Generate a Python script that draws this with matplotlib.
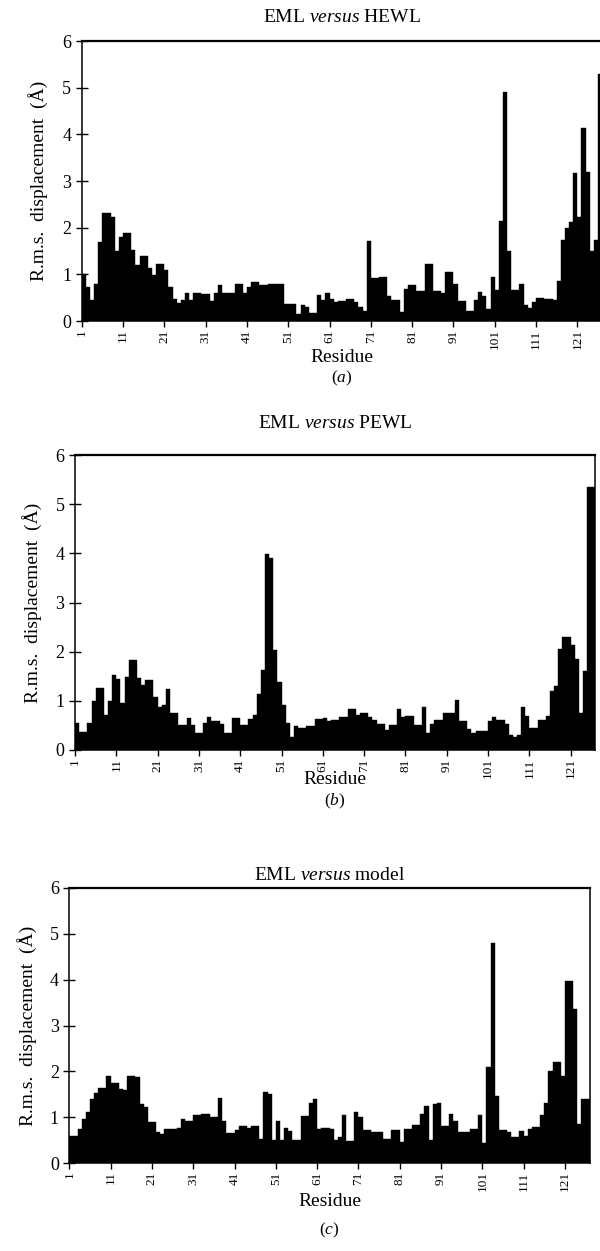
import matplotlib
matplotlib.use('Agg')
import matplotlib.pyplot as plt
import numpy as np

# residue numbers (bars drawn from r to r+1)
residues = np.arange(1, 127)
x_ticks = list(range(1, 122, 10))
y_ticks = [0, 1, 2, 3, 4, 5, 6]

# r.m.s. displacement per residue (A)
rms_hewl = [
    1.0, 0.72, 0.45, 0.8, 1.7, 2.32, 2.32, 2.22, 1.5, 1.79,
    1.89, 1.89, 1.52, 1.2, 1.39, 1.39, 1.14, 0.98, 1.23, 1.23,
    1.1, 0.72, 0.48, 0.39, 0.46, 0.6, 0.46, 0.6, 0.6, 0.57,
    0.57, 0.43, 0.59, 0.77, 0.6, 0.6, 0.6, 0.79, 0.79, 0.59,
    0.72, 0.84, 0.84, 0.77, 0.77, 0.79, 0.79, 0.79, 0.8, 0.37,
    0.37, 0.37, 0.16, 0.35, 0.3, 0.17, 0.17, 0.55, 0.46, 0.61,
    0.48, 0.41, 0.42, 0.42, 0.47, 0.47, 0.4, 0.31, 0.21, 1.71,
    0.92, 0.92, 0.94, 0.94, 0.54, 0.44, 0.44, 0.2, 0.69, 0.77,
    0.77, 0.64, 0.64, 1.23, 1.23, 0.65, 0.65, 0.6, 1.04, 1.04,
    0.8, 0.42, 0.42, 0.21, 0.21, 0.46, 0.62, 0.54, 0.25, 0.94,
    0.67, 2.15, 4.9, 1.5, 0.67, 0.67, 0.8, 0.35, 0.28, 0.4,
    0.5, 0.5, 0.47, 0.47, 0.44, 0.86, 1.73, 2.0, 2.13, 3.18,
    2.22, 4.13, 3.2, 1.5, 1.73, 5.3,
]
rms_pewl = [
    0.54, 0.37, 0.37, 0.54, 0.99, 1.26, 1.26, 0.71, 0.99, 1.53,
    1.44, 0.95, 1.48, 1.84, 1.84, 1.46, 1.33, 1.43, 1.43, 1.07,
    0.88, 0.92, 1.24, 0.76, 0.76, 0.51, 0.51, 0.66, 0.51, 0.34,
    0.34, 0.54, 0.67, 0.58, 0.58, 0.53, 0.35, 0.35, 0.65, 0.65,
    0.51, 0.51, 0.63, 0.71, 1.14, 1.63, 3.98, 3.9, 2.03, 1.39,
    0.92, 0.54, 0.27, 0.49, 0.44, 0.44, 0.49, 0.49, 0.63, 0.63,
    0.65, 0.58, 0.62, 0.61, 0.67, 0.67, 0.83, 0.83, 0.71, 0.76,
    0.76, 0.67, 0.61, 0.53, 0.53, 0.41, 0.51, 0.51, 0.83, 0.68,
    0.69, 0.69, 0.51, 0.51, 0.88, 0.34, 0.53, 0.61, 0.61, 0.76,
    0.76, 0.76, 1.02, 0.58, 0.58, 0.42, 0.35, 0.39, 0.39, 0.39,
    0.6, 0.68, 0.61, 0.61, 0.53, 0.3, 0.27, 0.3, 0.88, 0.7,
    0.44, 0.44, 0.61, 0.61, 0.7, 1.21, 1.31, 2.05, 2.3, 2.3,
    2.13, 1.85, 0.75, 1.6, 5.35, 5.35,
]
rms_model = [
    0.58, 0.58, 0.74, 0.96, 1.11, 1.39, 1.52, 1.64, 1.64, 1.9,
    1.75, 1.75, 1.62, 1.59, 1.9, 1.9, 1.88, 1.28, 1.22, 0.89,
    0.89, 0.67, 0.64, 0.74, 0.74, 0.74, 0.77, 0.96, 0.91, 0.91,
    1.04, 1.04, 1.06, 1.06, 1.01, 1.01, 1.42, 0.91, 0.66, 0.66,
    0.73, 0.8, 0.8, 0.77, 0.8, 0.8, 0.53, 1.55, 1.5, 0.51,
    0.91, 0.5, 0.77, 0.69, 0.51, 0.5, 1.02, 1.02, 1.31, 1.4,
    0.74, 0.77, 0.77, 0.74, 0.51, 0.56, 1.04, 0.49, 0.49, 1.11,
    1.0, 0.73, 0.73, 0.67, 0.67, 0.67, 0.53, 0.53, 0.71, 0.71,
    0.45, 0.75, 0.75, 0.84, 0.84, 1.06, 1.24, 0.51, 1.28, 1.31,
    0.8, 0.8, 1.06, 0.91, 0.68, 0.68, 0.68, 0.74, 0.74, 1.04,
    0.44, 2.09, 4.8, 1.46, 0.73, 0.73, 0.68, 0.56, 0.56, 0.69,
    0.6, 0.75, 0.78, 0.78, 1.05, 1.3, 2.0, 2.2, 2.2, 1.9,
    3.98, 3.98, 3.36, 0.85, 1.39, 1.39,
]

titles = [r'EML $\it{versus}$ HEWL', r'EML $\it{versus}$ PEWL',
          r'EML $\it{versus}$ model']
letters = [r'($\it{a}$)', r'($\it{b}$)', r'($\it{c}$)']
series = [rms_hewl, rms_pewl, rms_model]

plt.rcParams.update({
    'font.family': 'Liberation Serif',
    'mathtext.fontset': 'custom',
    'mathtext.rm': 'Liberation Serif',
    'mathtext.it': 'Liberation Serif:italic',
})

W, H = 600, 1251
fig = plt.figure(figsize=(W / 100, H / 100), dpi=100)

# axes boxes in pixels: left, right, top, bottom
boxes = [(81.7, 602.1, 41, 321), (75, 595.4, 455, 750),
         (69.3, 589.7, 888, 1163)]
title_y = [18, 423, 876]
xlabel_y = [357, 780, 1201]
letter_y = [378, 801, 1230]
ylabel_x = [38, 32, 27]

for i, values in enumerate(series):
    x0, x1, top, bot = boxes[i]
    ax = fig.add_axes([x0 / W, 1 - bot / H, (x1 - x0) / W, (bot - top) / H])
    ax.bar(residues, values, width=1, align='edge', color='black',
           edgecolor='black', linewidth=0.3)
    ax.set_xlim(1, 127)
    ax.set_ylim(0, 6)
    ax.set_xticks(x_ticks)
    ax.set_xticklabels([str(t) for t in x_ticks], rotation=90, fontsize=9.5)
    ax.set_yticks(y_ticks)
    ax.set_yticklabels([str(t) for t in y_ticks], fontsize=13)
    ax.tick_params(axis='y', direction='inout', length=9, width=1, pad=3)
    ax.tick_params(axis='x', direction='out', length=4, width=1, pad=2)
    for side in ['left', 'bottom', 'right']:
        ax.spines[side].set_linewidth(1.1)
    ax.spines['top'].set_linewidth(1.6)

    xc = (x0 + x1) / 2 / W
    fig.text(xc, 1 - title_y[i] / H, titles[i], ha='center', va='center',
             fontsize=14)
    fig.text(xc, 1 - xlabel_y[i] / H, 'Residue', ha='center', va='center',
             fontsize=14)
    fig.text(xc, 1 - letter_y[i] / H, letters[i], ha='center', va='center',
             fontsize=12.5)
    fig.text(ylabel_x[i] / W, 1 - (top + bot) / 2 / H,
             'R.m.s.  displacement  (Å)', rotation=90, ha='center',
             va='center', fontsize=14)

fig.savefig('out.png', dpi=100)
